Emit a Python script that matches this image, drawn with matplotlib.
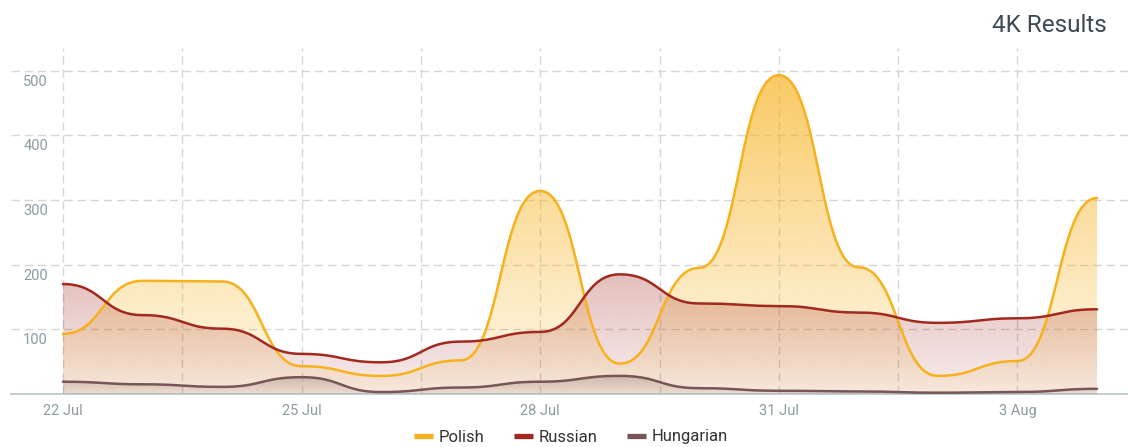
import numpy as np
import matplotlib.pyplot as plt
from matplotlib.patches import Polygon
from matplotlib.lines import Line2D
from matplotlib.colors import to_rgb

plt.rcParams['font.family'] = ['Roboto', 'DejaVu Sans']

# Data (one point per day)
dates = ['22 Jul', '23 Jul', '24 Jul', '25 Jul', '26 Jul', '27 Jul', '28 Jul',
         '29 Jul', '30 Jul', '31 Jul', '1 Aug', '2 Aug', '3 Aug', '4 Aug']
polish = [93, 175, 174, 43, 28, 52, 314, 47, 195, 493, 196, 28, 51, 303]
russian = [170, 122, 101, 62, 49, 81, 96, 185, 140, 136, 126, 110, 117, 131]
hungarian = [19, 15, 11, 26, 3, 10, 19, 28, 9, 5, 4, 2, 3, 8]
series_names = ['Polish', 'Russian', 'Hungarian']
colors = ['#F7B11C', '#A2291F', '#765656']
y_ticks = [100, 200, 300, 400, 500]


def smooth(x, y, k=0.5, steps=60):
    # cubic bezier between points with flat tangents at every point
    xs, ys = [], []
    u = np.linspace(0, 1, steps, endpoint=False)
    b0, b1, b2, b3 = (1 - u)**3, 3 * (1 - u)**2 * u, 3 * (1 - u) * u**2, u**3
    for i in range(len(x) - 1):
        x0, x1 = float(x[i]), float(x[i + 1])
        y0, y1 = float(y[i]), float(y[i + 1])
        h = x1 - x0
        xs.append(b0 * x0 + b1 * (x0 + k * h) + b2 * (x1 - k * h) + b3 * x1)
        ys.append(b0 * y0 + b1 * y0 + b2 * y1 + b3 * y1)
    xs.append([x[-1]])
    ys.append([y[-1]])
    return np.concatenate(xs), np.concatenate(ys)


def gradient_fill(ax, xs, ys, color, a_top, a_bot, z):
    verts = np.column_stack([np.r_[xs[0], xs, xs[-1]], np.r_[0, ys, 0]])
    poly = Polygon(verts, closed=True, facecolor='none', edgecolor='none')
    ax.add_patch(poly)
    img = np.zeros((256, 1, 4))
    img[:, :, :3] = to_rgb(color)
    img[:, 0, 3] = np.linspace(a_top, a_bot, 256)
    im = ax.imshow(img, extent=[xs[0], xs[-1], 0, ys.max()], aspect='auto',
                   origin='upper', interpolation='bilinear', zorder=z)
    im.set_clip_path(poly)


fig = plt.figure(figsize=(11.28, 4.47), dpi=100)
ax = fig.add_axes([11 / 1128, 53 / 447, 1117 / 1128, 346 / 447])

x = np.arange(len(dates))
alphas = [(0.68, 0.08), (0.30, 0.08), (0.30, 0.08)]
for i, vals in enumerate([polish, russian, hungarian]):
    xs, ys = smooth(x, vals)
    gradient_fill(ax, xs, ys, colors[i], alphas[i][0], alphas[i][1], 1 + i)
for i, vals in enumerate([polish, russian, hungarian]):
    xs, ys = smooth(x, vals)
    ax.plot(xs, ys, color=colors[i], lw=1.8, zorder=5, solid_capstyle='round')

ax.set_xlim(-52 / 79.6, 13 + 31 / 79.6)
ax.set_ylim(0, 535)

# grid
ax.set_xticks(x[::3])
ax.set_xticklabels(dates[::3])
ax.set_xticks(np.arange(1.5, 13, 3), minor=True)
ax.set_yticks(y_ticks)
ax.set_yticklabels([])
ax.grid(True, which='both', color='#D6D6D6', lw=1, linestyle=(0, (6, 3.5)), zorder=0)
ax.set_axisbelow(True)
ax.tick_params(axis='both', which='both', length=0)
ax.tick_params(axis='x', pad=7, labelsize=10.5, labelcolor='#8A9BA3')
for side in ['top', 'right', 'left']:
    ax.spines[side].set_visible(False)
ax.spines['bottom'].set_color('#B8C2C6')
ax.spines['bottom'].set_linewidth(1.2)

for v in y_ticks:
    ax.annotate(str(v), xy=(37 / 1117, v), xycoords=('axes fraction', 'data'),
                xytext=(0, -8), textcoords='offset points', ha='right', va='center',
                fontsize=10.5, color='#8A9BA3')

fig.text(1107 / 1128, 1 - 25 / 447, '4K Results', ha='right', va='center',
         fontsize=17.5, color='#3B4A54')

handles = [Line2D([], [], color=c, lw=3.8, solid_capstyle='butt') for c in colors]
fig.legend(handles, series_names, loc='center', bbox_to_anchor=(571 / 1128, 1 - 437 / 447),
           ncol=3, frameon=False, fontsize=12, handlelength=1.1, handletextpad=0.35,
           columnspacing=1.8, labelcolor='#333333')

fig.savefig('out.png', dpi=100)
